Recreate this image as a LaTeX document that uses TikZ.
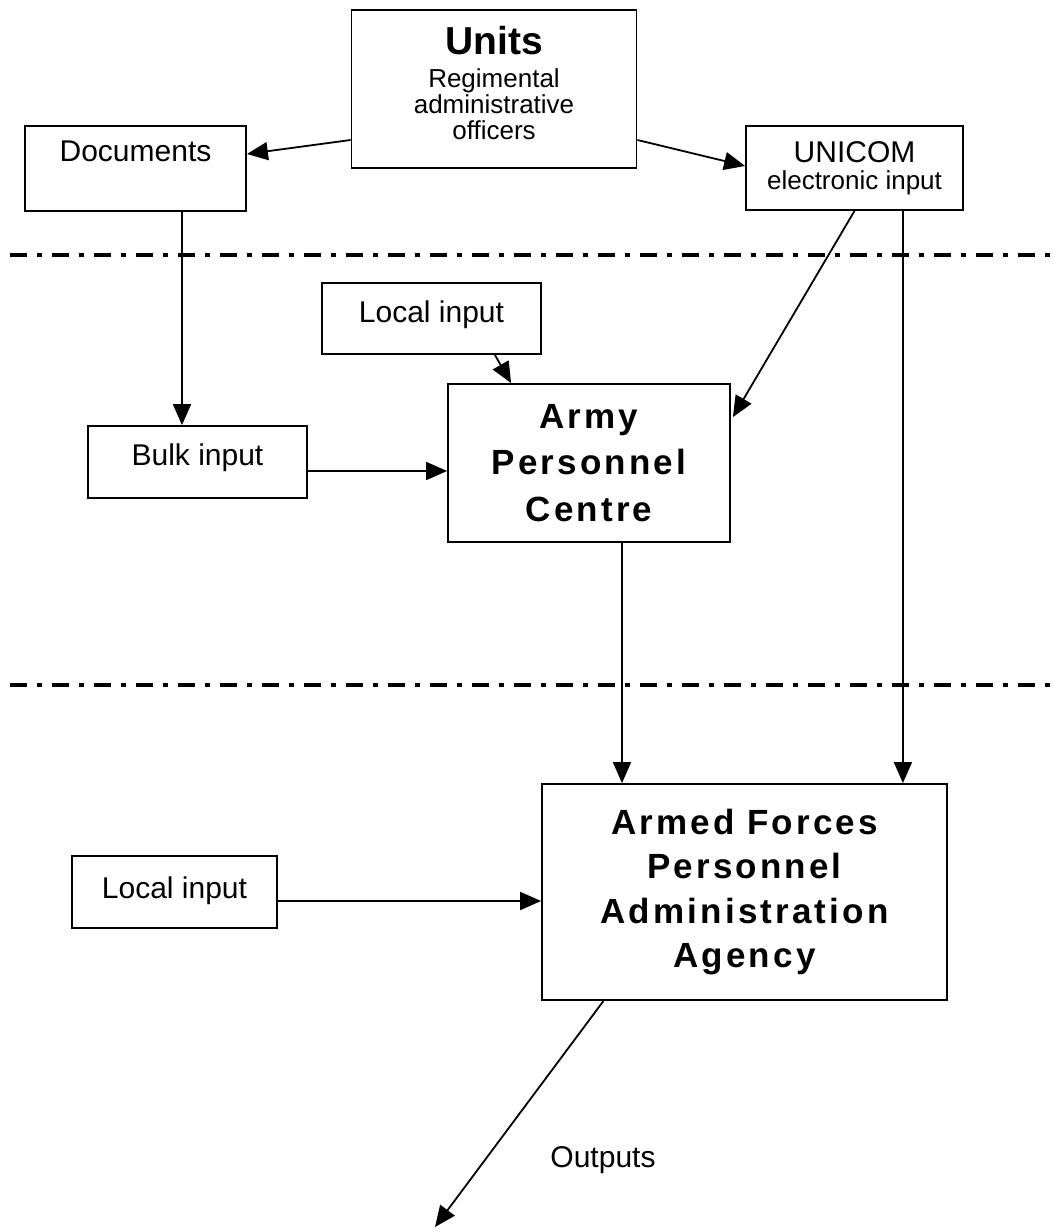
\documentclass[tikz,border=0pt]{standalone}
\usepackage{fontspec}
\setmainfont{Liberation Sans}
\newfontfamily\spacedsans[LetterSpace=9]{Liberation Sans}
\usetikzlibrary{calc,arrows.meta}

\begin{document}
\begin{tikzpicture}[x=1pt,y=-1pt,
  box/.style={draw,line width=1.8pt,inner sep=0pt,align=center,font=\fontsize{30}{27}\selectfont},
  agency/.style={box,font=\spacedsans\bfseries\fontsize{35}{44.5}\selectfont},
  flow/.style={line width=1.8pt,-{Triangle[length=21pt,width=18pt]}},
  sepline/.style={line width=4.5pt,dash pattern=on 17pt off 10pt on 5pt off 10pt}]
\useasboundingbox (0,0) rectangle (1052,1230);

% Boites du haut
\node[box,minimum width=285pt,minimum height=158pt,text depth=12pt,font=\fontsize{26}{26}\selectfont] (units) at (494,89)
  {{\fontsize{39}{39}\selectfont\bfseries Units}\\[7pt]Regimental\\administrative\\officers};
\node[box,minimum width=221pt,text height=36pt,text depth=49pt] (docs) at (135.5,168.5) {Documents};
\node[box,minimum width=217pt,minimum height=84pt] (unicom) at (854.5,168)
  {UNICOM\\{\fontsize{26}{26}\selectfont electronic input}};

% Lignes de separation
\draw[sepline] (10,255) -- (1052,255);
\draw[sepline] (10,685) -- (1052,685);

% Niveau APC
\node[box,minimum width=219pt,text height=39pt,text depth=32pt] (loc1) at (431.5,318.5) {Local input};
\node[box,minimum width=219pt,text height=39pt,text depth=33pt] (bulk) at (197.5,462) {Bulk input};
\node[agency,minimum width=282pt,minimum height=158pt,font=\spacedsans\bfseries\fontsize{35}{46.5}\selectfont] (apc) at (589,463)
  {Army\\Personnel\\Centre};

% Niveau AFPAA
\node[agency,minimum width=405pt,minimum height=216pt] (afpaa) at (744.5,892)
  {Armed Forces\\Personnel\\Administration\\Agency};
\node[box,minimum width=205pt,text height=42pt,text depth=30pt] (loc2) at (174.5,892) {Local input};
\node[font=\fontsize{30}{30}\selectfont] (outlbl) at (603,1160) {Outputs};
\coordinate (out) at (435,1227);

% Fleches
\draw[flow] ($(units.west)+(0,51)$) -- ($(docs.east)+(0,-14.5)$);
\draw[flow] ($(units.east)+(0,51)$) -- ($(unicom.west)+(0,-2)$);
\draw[flow] ($(docs.south)+(46.5,0)$) coordinate (d1) -- (d1 |- bulk.north);
\draw[flow] (unicom.south) -- ($(apc.north east)+(2,34)$);
\draw[flow] ($(unicom.south east)+(-61,0)$) coordinate (u1) -- (u1 |- afpaa.north);
\draw[flow] ($(loc1.south east)+(-47,0)$) -- ($(apc.north west)+(64,0)$);
\draw[flow] ($(bulk.east)+(0,9)$) coordinate (b1) -- (b1 -| apc.west);
\draw[flow] ($(apc.south)+(33,0)$) coordinate (a1) -- (a1 |- afpaa.north);
\draw[flow] ($(loc2.east)+(0,9)$) coordinate (l1) -- (l1 -| afpaa.west);
\draw[flow] ($(afpaa.south)+(-141,0)$) -- (out);

\end{tikzpicture}
\end{document}
